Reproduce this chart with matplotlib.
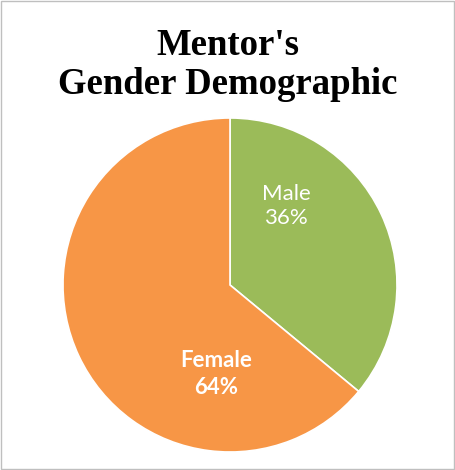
import matplotlib.pyplot as plt
from matplotlib.patches import Rectangle

labels = ["Male", "Female"]
shares = [36, 64]
colors = ["#9BBB59", "#F79646"]

plt.rcParams['font.family'] = ['Lato', 'DejaVu Sans']

fig = plt.figure(figsize=(4.55, 4.7), dpi=100)
fig.patches.append(Rectangle((0.002, 0.002), 0.996, 0.996, transform=fig.transFigure,
                             fill=False, edgecolor="#BFBFBF", linewidth=1.0))

ax = fig.add_axes([63 / 455, 18 / 470, 334 / 455, 334 / 470])
ax.pie(shares, colors=colors, startangle=90, counterclock=False, radius=1.0,
       wedgeprops=dict(linewidth=1.2, edgecolor="white"))
ax.set_xlim(-1, 1)
ax.set_ylim(-1, 1)
ax.set_aspect("equal")
ax.axis("off")

ax.text(0.335, 0.473, f"{labels[0]}\n{shares[0]}%", color="white", fontsize=16,
        ha="center", va="center", linespacing=1.3)
ax.text(-0.084, -0.533, f"{labels[1]}\n{shares[1]}%", color="white", fontsize=16,
        fontweight="bold", ha="center", va="center", linespacing=1.3)

fig.text(0.5, 0.862, "Mentor's\nGender Demographic", ha="center", va="center",
         fontsize=26.5, fontweight="bold", linespacing=1.15,
         family=["Liberation Serif", "DejaVu Serif"])

fig.savefig("out.png", dpi=100)
